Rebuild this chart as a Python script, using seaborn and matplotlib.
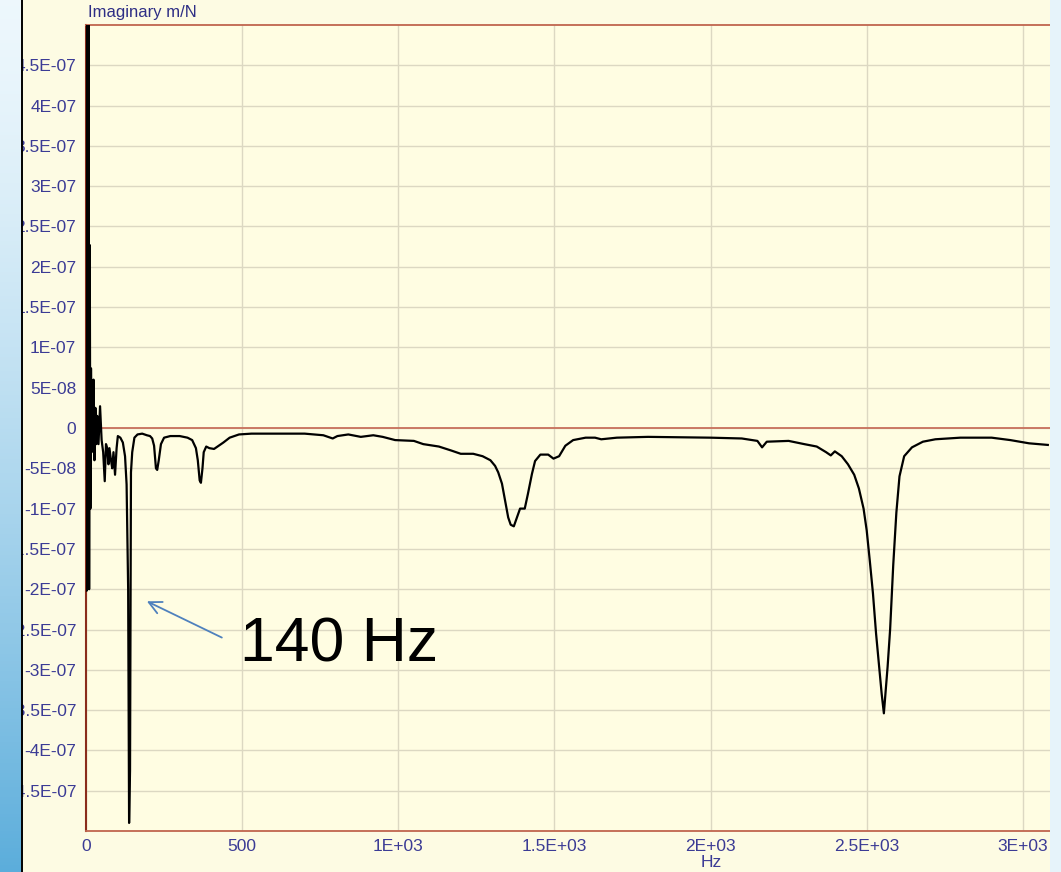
import numpy as np
import pandas as pd
import matplotlib
matplotlib.use("Agg")
import matplotlib.pyplot as plt
from matplotlib.lines import Line2D
import seaborn as sns

# ---- data (frequency in Hz, imaginary part in units of 1E-08 m/N) ----
freq_hz = [0, 2, 4, 6, 8, 10, 12, 14, 16, 18, 20, 22, 24, 27, 30, 33, 36, 40, 45,
           50, 55, 60, 64, 68, 72, 75, 80, 84, 88, 93, 98, 102, 110, 118, 125, 130,
           135, 138, 141, 144, 148, 155, 165, 180, 195, 205, 212, 218, 224, 228, 233,
           240, 250, 270, 300, 325, 340, 352, 358, 364, 368, 373, 377, 385, 395, 410,
           425, 440, 460, 490, 530, 700, 760, 790, 805, 840, 880, 920, 950, 990, 1050,
           1080, 1130, 1170, 1200, 1240, 1270, 1295, 1310, 1320, 1332, 1342, 1352,
           1360, 1370, 1380, 1390, 1405, 1415, 1428, 1438, 1455, 1480, 1497, 1515,
           1535, 1560, 1600, 1630, 1650, 1700, 1800, 2000, 2100, 2150, 2165, 2180,
           2250, 2300, 2340, 2370, 2385, 2398, 2420, 2440, 2460, 2475, 2490, 2500,
           2510, 2520, 2530, 2540, 2548, 2555, 2560, 2567, 2575, 2585, 2595, 2605,
           2620, 2645, 2680, 2720, 2800, 2900, 2960, 3020, 3080]
imag_e8 = [60, -20.2, 60, -18, 60, -20, 22.7, -10, 7.4, -3, 5.8, -2, 6, -4, 2.5, -2,
           1.5, -2, 2.7, -1.5, -3, -6.6, -2, -2.5, -4.5, -2.5, -4, -5, -3, -5.8, -2.5,
           -1.0, -1.2, -1.8, -3.5, -7, -20, -49, -42.5, -5.5, -3, -1.2, -0.8, -0.7,
           -0.9, -1.0, -1.3, -2.2, -5.0, -5.2, -4.0, -2.0, -1.2, -1.0, -1.0, -1.2,
           -1.5, -2.5, -4.0, -6.5, -6.8, -5.0, -3.0, -2.3, -2.5, -2.6, -2.2, -1.8,
           -1.2, -0.8, -0.7, -0.7, -0.9, -1.3, -1.0, -0.8, -1.1, -0.9, -1.1, -1.5,
           -1.6, -2.0, -2.3, -2.8, -3.2, -3.2, -3.5, -4.0, -4.7, -5.5, -6.9, -9.0,
           -11.1, -12.0, -12.2, -11.1, -10.0, -10.0, -8.2, -5.7, -4.1, -3.3, -3.3,
           -3.8, -3.5, -2.2, -1.5, -1.2, -1.2, -1.4, -1.2, -1.1, -1.2, -1.3, -1.6,
           -2.4, -1.7, -1.6, -2.0, -2.3, -3.0, -3.4, -2.9, -3.5, -4.5, -5.8, -7.5,
           -10.0, -12.7, -16.5, -20.5, -25.5, -29.6, -33.0, -35.4, -33.0, -29.6,
           -25.0, -17.0, -10.5, -6.0, -3.5, -2.4, -1.7, -1.4, -1.2, -1.2, -1.5,
           -1.9, -2.1]

x_ticks = [0, 500, 1000, 1500, 2000, 2500, 3000]
x_tick_labels = ["0", "500", "1E+03", "1.5E+03", "2E+03", "2.5E+03", "3E+03"]
y_ticks_e8 = [45, 40, 35, 30, 25, 20, 15, 10, 5, 0, -5, -10, -15, -20, -25, -30,
              -35, -40, -45]
y_tick_labels = ["4.5E-07", "4E-07", "3.5E-07", "3E-07", "2.5E-07", "2E-07",
                 "1.5E-07", "1E-07", "5E-08", "0", "-5E-08", "-1E-07", "-1.5E-07",
                 "-2E-07", "-2.5E-07", "-3E-07", "-3.5E-07", "-4E-07", "-4.5E-07"]
annotation_text = "140 Hz"
y_title = "Imaginary m/N"
x_title = "Hz"

df = pd.DataFrame({"Hz": freq_hz, "imag": np.array(imag_e8) * 1e-8})

# ---- figure ----
plt.rcParams["font.family"] = ["Liberation Sans", "DejaVu Sans"]
W, H = 1061, 872
fig = plt.figure(figsize=(W / 100, H / 100), dpi=100, facecolor="#fdfbe3")

ax = fig.add_axes([86 / W, 41 / H, 964 / W, 806 / H])
ax.set_facecolor("#fffde2")

sns.lineplot(data=df, x="Hz", y="imag", ax=ax, color="black", linewidth=1.6,
             estimator=None, sort=False, zorder=4)

ax.set_xlim(0, 3087)
ax.set_ylim(-5e-7, 5e-7)

ax.set_xticks(x_ticks)
ax.set_xticklabels(x_tick_labels)
ax.set_yticks([v * 1e-8 for v in y_ticks_e8])
ax.set_yticklabels(y_tick_labels)
ax.tick_params(axis="both", length=0, labelsize=12.5, labelcolor="#3b3b95")
ax.tick_params(axis="y", pad=7)
ax.tick_params(axis="x", pad=6)

ax.grid(True, color="#dcd8c2", linewidth=1.0, zorder=0)
ax.set_axisbelow(True)
ax.axhline(0, color="#c8705c", linewidth=1.3, zorder=3)

for side in ["top", "bottom"]:
    ax.spines[side].set_color("#c0654e")
    ax.spines[side].set_linewidth(1.3)
ax.spines["left"].set_color("#8a2c1c")
ax.spines["left"].set_linewidth(1.5)
ax.spines["right"].set_visible(False)

ax.set_xlabel(x_title, fontsize=12.5, color="#3b3b95")
ax.xaxis.set_label_coords((711 - 86) / 964, (831 - 862) / 806)
ax.xaxis.label.set_verticalalignment("center")
ax.set_ylabel("")
fig.text(88 / W, 1 - 12 / H, y_title, fontsize=12, color="#2e2e85",
         ha="left", va="center")

# annotation for the 140 Hz resonance
ax.annotate("", xy=(195, -21.5e-8), xytext=(435, -26.0e-8),
            arrowprops=dict(arrowstyle="->,head_length=0.9,head_width=0.45",
                            color="#4f81bd", linewidth=1.3, shrinkA=0, shrinkB=0))
ax.text(493, -26.9e-8, annotation_text, fontsize=45, color="black",
        ha="left", va="center", zorder=6)

# slide background strips (left gradient, right edge)
sax = fig.add_axes([0, 0, 21 / W, 1], zorder=5)
grad = np.linspace(0, 1, 256).reshape(-1, 1)
top_c = np.array([0.93, 0.97, 0.99])
bot_c = np.array([0.36, 0.68, 0.86])
img = top_c + (bot_c - top_c) * grad[..., None] ** 1.4
sax.imshow(img, aspect="auto", extent=[0, 1, 0, 1], origin="upper")
sax.set_axis_off()
fig.add_artist(Line2D([21.5 / W, 21.5 / W], [0, 1], color="black",
                      linewidth=1.4, zorder=6))

rax = fig.add_axes([1050 / W, 0, 11 / W, 1], zorder=5)
rax.set_facecolor("#e6f3fa")
rax.set_xticks([])
rax.set_yticks([])
for s in rax.spines.values():
    s.set_visible(False)

fig.savefig("out.png", dpi=100, facecolor=fig.get_facecolor())
